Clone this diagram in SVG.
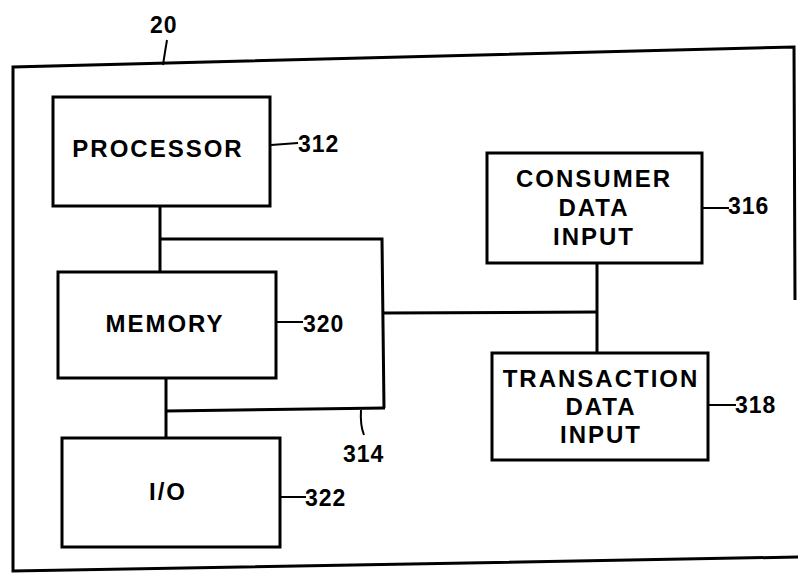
<svg xmlns="http://www.w3.org/2000/svg" width="798" height="574" viewBox="0 0 798 574">
<style>
.box{fill:none;stroke:#000;stroke-width:3}
.ln{fill:none;stroke:#000;stroke-width:3}
.ld{fill:none;stroke:#000;stroke-width:2}
.t{font-family:"Liberation Sans",Arial,sans-serif;font-weight:bold;font-size:24px;letter-spacing:2px;fill:#000;text-anchor:middle}
.n{font-family:"Liberation Sans",Arial,sans-serif;font-weight:bold;font-size:23px;letter-spacing:1px;fill:#000}
</style>
<rect width="798" height="574" fill="#fff"/>
<g id="device20">
<path class="box" d="M795,300 L794,47 L13,67 L13,571 L798,557"/>
<text class="n" x="150" y="33">20</text>
<path class="ld" d="M167,40 L165,52 L163,65"/>
</g>
<g id="processor312">
<rect class="box" x="53" y="97" width="217" height="109"/>
<text class="t" x="158" y="157">PROCESSOR</text>
<path class="ld" d="M271,145 L298,143"/>
<text class="n" x="298" y="152">312</text>
</g>
<g id="memory320">
<rect class="box" x="58" y="272" width="218" height="106"/>
<text class="t" x="165" y="332">MEMORY</text>
<path class="ld" d="M277,322 L303,322"/>
<text class="n" x="303" y="332">320</text>
</g>
<g id="io322">
<rect class="box" x="62" y="438" width="218" height="109"/>
<text class="t" x="168" y="500">I/O</text>
<path class="ld" d="M281,497 L306,497"/>
<text class="n" x="305" y="506">322</text>
</g>
<g id="consumer316">
<rect class="box" x="487" y="153" width="215" height="110"/>
<text class="t" x="594" y="187">CONSUMER</text>
<text class="t" x="594" y="216">DATA</text>
<text class="t" x="594" y="245">INPUT</text>
<path class="ld" d="M703,208 L729,208"/>
<text class="n" x="728" y="214">316</text>
</g>
<g id="transaction318">
<rect class="box" x="492" y="353" width="216" height="107"/>
<text class="t" x="601" y="387">TRANSACTION</text>
<text class="t" x="601" y="415">DATA</text>
<text class="t" x="601" y="443">INPUT</text>
<path class="ld" d="M709,405 L736,405"/>
<text class="n" x="735" y="413">318</text>
</g>
<g id="bus314">
<path class="ln" d="M160,239 L382,239 L384,408"/>
<path class="ln" d="M166,411 L385,408"/>
<path class="ld" d="M361,410 Q360,425 364,435"/>
<text class="n" x="343" y="462">314</text>
</g>
<g id="connectors">
<path class="ln" d="M160,206 L160,272"/>
<path class="ln" d="M166,378 L166,438"/>
<path class="ln" d="M384,313 L597,312"/>
<path class="ln" d="M597,263 L597,353"/>
</g>
</svg>
